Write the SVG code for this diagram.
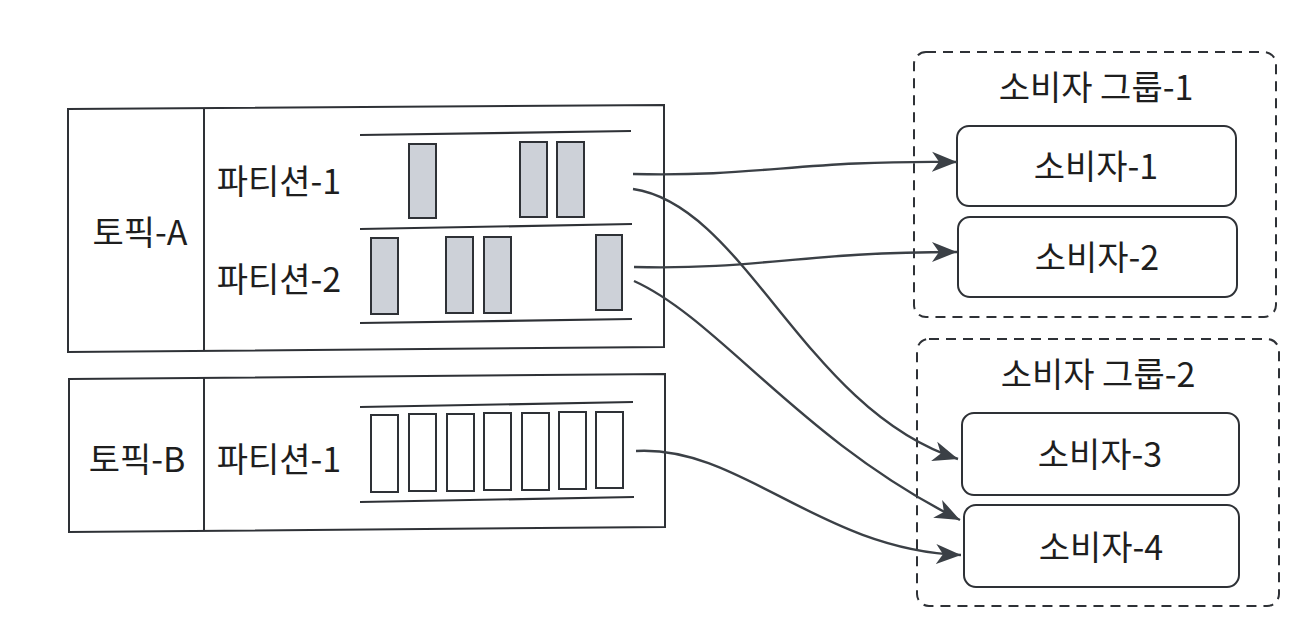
<svg xmlns="http://www.w3.org/2000/svg" width="1308" height="638" viewBox="0 0 1308 638">
<style>
.box{fill:none;stroke:#2e3136;stroke-width:2}
.rail{stroke:#2e3136;stroke-width:2.2;fill:none}
.msg{fill:#cdd1d8;stroke:#2e3136;stroke-width:2}
.empty{fill:#fff;stroke:#2e3136;stroke-width:2}
.grp{fill:none;stroke:#2e3136;stroke-width:2;stroke-dasharray:10 7}
.cons{fill:#fff;stroke:#2e3136;stroke-width:2}
.t{font-family:"Noto Sans CJK KR","Noto Sans",sans-serif;font-size:34px;fill:#1e1e1e}
.c{stroke:#3b4046;stroke-width:2.4;fill:none;marker-end:url(#ah)}
</style>
<defs>
<marker id="ah" markerUnits="userSpaceOnUse" markerWidth="28" markerHeight="24" refX="25" refY="12" orient="auto">
<path d="M0,2 L25,12 L0,22 L7,12 Z" fill="#3b4046"/>
</marker>
</defs>
<rect width="1308" height="638" fill="#fff"/>

<g id="topic-a">
<path class="box" d="M68,109 L664,105 L664,347 L68,352 Z"/>
<line class="box" x1="204" y1="108" x2="204" y2="351"/>
<text class="t" x="140" y="245" text-anchor="middle">토픽-A</text>
<text class="t" x="279" y="194" text-anchor="middle">파티션-1</text>
<text class="t" x="279" y="292" text-anchor="middle">파티션-2</text>
<line class="rail" x1="360" y1="135" x2="631" y2="131"/>
<line class="rail" x1="360" y1="229" x2="632" y2="224"/>
<line class="rail" x1="360" y1="323" x2="632" y2="319"/>
<rect class="msg" x="409" y="144" width="27" height="74"/>
<rect class="msg" x="520" y="142" width="27" height="75"/>
<rect class="msg" x="557" y="142" width="27" height="75"/>
<rect class="msg" x="371" y="238" width="27" height="76"/>
<rect class="msg" x="446" y="237" width="27" height="76"/>
<rect class="msg" x="484" y="237" width="27" height="76"/>
<rect class="msg" x="596" y="235" width="26" height="75"/>
</g>

<g id="topic-b">
<path class="box" d="M69,379 L665,374 L665,527 L69,532 Z"/>
<line class="box" x1="204" y1="378" x2="204" y2="531"/>
<text class="t" x="137" y="472" text-anchor="middle">토픽-B</text>
<text class="t" x="279" y="472" text-anchor="middle">파티션-1</text>
<line class="rail" x1="360" y1="407" x2="633" y2="402"/>
<line class="rail" x1="360" y1="502" x2="634" y2="497"/>
<rect class="empty" x="371" y="415" width="27" height="77"/>
<rect class="empty" x="409" y="414" width="27" height="77"/>
<rect class="empty" x="447" y="414" width="27" height="77"/>
<rect class="empty" x="484" y="413" width="27" height="77"/>
<rect class="empty" x="522" y="413" width="27" height="77"/>
<rect class="empty" x="559" y="412" width="27" height="77"/>
<rect class="empty" x="596" y="412" width="27" height="76"/>
</g>

<g id="consumer-group-1">
<rect class="grp" x="914" y="52" width="362" height="265" rx="12"/>
<text class="t" x="1096" y="100" text-anchor="middle">소비자 그룹-1</text>
</g>
<g id="consumer-1">
<rect class="cons" x="957" y="126" width="279" height="80" rx="12"/>
<text class="t" x="1096" y="179" text-anchor="middle">소비자-1</text>
</g>
<g id="consumer-2">
<rect class="cons" x="958" y="217" width="279" height="80" rx="12"/>
<text class="t" x="1097" y="270" text-anchor="middle">소비자-2</text>
</g>

<g id="consumer-group-2">
<rect class="grp" x="917" y="339" width="362" height="267" rx="12"/>
<text class="t" x="1098" y="387" text-anchor="middle">소비자 그룹-2</text>
</g>
<g id="consumer-3">
<rect class="cons" x="962" y="413" width="277" height="82" rx="12"/>
<text class="t" x="1100" y="467" text-anchor="middle">소비자-3</text>
</g>
<g id="consumer-4">
<rect class="cons" x="964" y="505" width="275" height="82" rx="12"/>
<text class="t" x="1101" y="560" text-anchor="middle">소비자-4</text>
</g>

<g id="connectors">
<path class="c" d="M633,174 C760,177 800,160 957,162"/>
<path class="c" d="M633,189 C745,205 805,410 958,459"/>
<path class="c" d="M634,267 C760,270 800,252 957,252"/>
<path class="c" d="M634,281 C720,320 800,440 960,520"/>
<path class="c" d="M636,451 C740,445 820,550 961,555"/>
</g>
</svg>
